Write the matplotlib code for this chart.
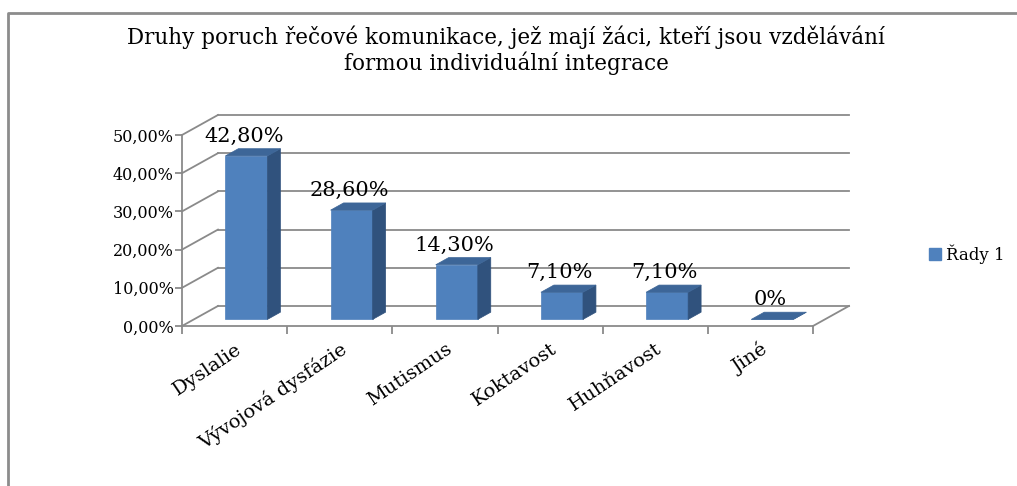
import matplotlib
matplotlib.use('Agg')
import matplotlib.pyplot as plt
from matplotlib.patches import Polygon, Patch
from matplotlib.lines import Line2D

# Data
kategorie = ['Dyslalie', 'Vývojová dysfázie', 'Mutismus', 'Koktavost', 'Huhňavost', 'Jiné']
hodnoty = [42.8, 28.6, 14.3, 7.1, 7.1, 0.0]
nazev_rady = 'Řady 1'
titulek = 'Druhy poruch řečové komunikace, jež mají žáci, kteří jsou vzdělávání\nformou individuální integrace'

plt.rcParams['font.family'] = 'DejaVu Serif'

W, H = 1017, 486
fig = plt.figure(figsize=(W / 100, H / 100), dpi=100)
fig.patch.set_facecolor('white')

# front plane of the pseudo-3D plot
ax = fig.add_axes([182 / W, (H - 326) / H, (813 - 182) / W, (326 - 135) / H])
ax.set_facecolor('none')
ax.set_xlim(0, 6)
ax.set_ylim(0, 50)

grid_c = '#8a8a8a'
front_c = '#4f81bd'
top_c = '#3d6698'
side_c = '#30527d'

# depth offset (data units)
Dx, Dy = 0.342, 5.24
d0, d1 = 0.33, 0.69

for s in ['top', 'right']:
    ax.spines[s].set_visible(False)
for s in ['left', 'bottom']:
    ax.spines[s].set_color(grid_c)
    ax.spines[s].set_linewidth(1.3)

# side wall and back wall grid
yt = list(range(0, 60, 10))
for v in yt:
    ax.plot([0, Dx], [v, v + Dy], color=grid_c, lw=1.3, clip_on=False, zorder=1)
    ax.plot([Dx, 6 + Dx], [v + Dy, v + Dy], color=grid_c, lw=1.3, clip_on=False, zorder=1)
ax.plot([6, 6 + Dx], [0, Dy], color=grid_c, lw=1.3, clip_on=False, zorder=1)

# bars
for i, v in enumerate(hodnoty):
    x0, x1 = i + 0.3, i + 0.7
    front = [(x0 + d0 * Dx, d0 * Dy), (x1 + d0 * Dx, d0 * Dy),
             (x1 + d0 * Dx, v + d0 * Dy), (x0 + d0 * Dx, v + d0 * Dy)]
    side = [(x1 + d0 * Dx, d0 * Dy), (x1 + d1 * Dx, d1 * Dy),
            (x1 + d1 * Dx, v + d1 * Dy), (x1 + d0 * Dx, v + d0 * Dy)]
    top = [(x0 + d0 * Dx, v + d0 * Dy), (x1 + d0 * Dx, v + d0 * Dy),
           (x1 + d1 * Dx, v + d1 * Dy), (x0 + d1 * Dx, v + d1 * Dy)]
    for pts, c in [(front, front_c), (side, side_c), (top, top_c)]:
        ax.add_patch(Polygon(pts, closed=True, facecolor=c, edgecolor=c, lw=0.5,
                             clip_on=False, zorder=3))
    txt = '0%' if v == 0 else f'{v:.2f}%'.replace('.', ',')
    ax.annotate(txt, (i + 0.5 + 0.09, v + d1 * Dy), xytext=(0, 2),
                textcoords='offset points', ha='center', va='bottom',
                fontsize=15, color='black', zorder=5, annotation_clip=False)

# ticks
ax.set_yticks(yt)
ax.set_yticklabels([f'{v:.2f}%'.replace('.', ',') for v in yt], fontsize=11.5)
ax.tick_params(axis='y', direction='out', length=5, color=grid_c, width=1.3, pad=1)
ax.set_xticks(range(0, 7))
ax.set_xticklabels([])
ax.tick_params(axis='x', which='major', direction='out', length=6, color=grid_c, width=1.3)
ax.set_xticks([i + 0.5 for i in range(6)], minor=True)
ax.set_xticklabels(kategorie, minor=True, rotation=34, ha='right',
                   rotation_mode='anchor', fontsize=14)
ax.tick_params(axis='x', which='minor', length=0, pad=10)

# title
fig.text(506 / W, 1 - 50 / H, titulek, ha='center', va='center', fontsize=15.5,
         linespacing=1.15)

# legend
fig.legend(handles=[Patch(facecolor=front_c, edgecolor=front_c, label=nazev_rady)],
           loc='center left', bbox_to_anchor=(929 / W, 1 - 254 / H), frameon=False,
           fontsize=12, handlelength=0.7, handleheight=0.7, handletextpad=0.3,
           borderpad=0, borderaxespad=0)

# outer frame (left and top edges visible)
fig.add_artist(Line2D([8 / W, 8 / W, 1], [0, 1 - 13 / H, 1 - 13 / H],
                      transform=fig.transFigure, color='#8c8c8c', lw=2))

fig.savefig('out.png', dpi=100)
